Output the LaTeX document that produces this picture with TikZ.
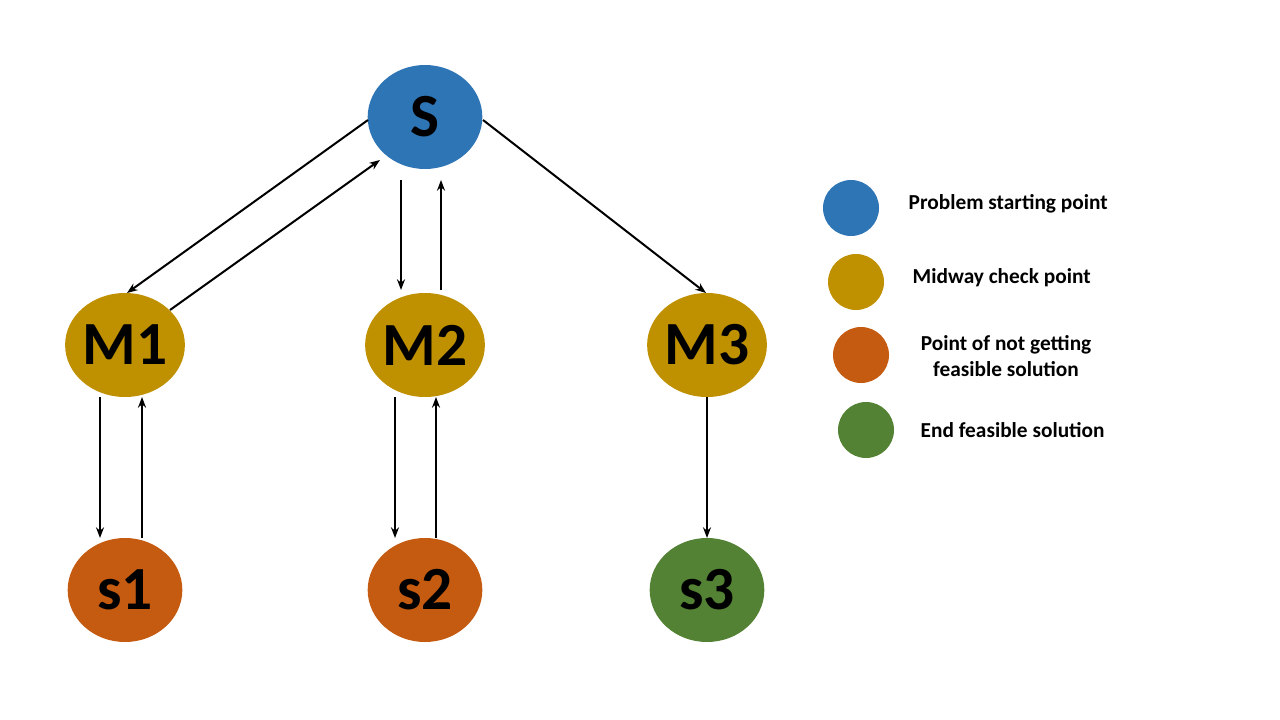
\documentclass[tikz,border=0pt]{standalone}
\usepackage{fontspec}
\setmainfont{Carlito}
\usetikzlibrary{shapes.geometric,arrows.meta,calc}
\definecolor{cblue}{HTML}{2E75B6}
\definecolor{cgold}{HTML}{BF9000}
\definecolor{corange}{HTML}{C55A11}
\definecolor{cgreen}{HTML}{548235}
\begin{document}
\begin{tikzpicture}[x=0.75pt,y=-0.75pt,
  nd/.style={ellipse,minimum width=86pt,minimum height=78pt,inner sep=0pt,font=\fontsize{46}{46}\selectfont\bfseries},
  lg/.style={circle,minimum size=42pt,inner sep=0pt},
  lt/.style={font=\fontsize{16}{19}\selectfont\bfseries,align=center},
  ar/.style={-{Stealth[length=8pt,width=6pt]},line width=1.5pt}]
\useasboundingbox (0,0) rectangle (1280,720);
\node[nd,fill=cblue] (S) at (425,117) {S};
\node[nd,fill=cgold] (M1) at (125,345) {M1};
\node[nd,fill=cgold] (M2) at (425,345) {M2};
\node[nd,fill=cgold] (M3) at (707,345) {M3};
\node[nd,fill=corange] (s1) at (125,590) {s1};
\node[nd,fill=corange] (s2) at (425,590) {s2};
\node[nd,fill=cgreen] (s3) at (707,590) {s3};
\draw[ar] ($(S)+(-57,3)$) -- ($(M1)+(2,-52)$);
\draw[ar] ($(M1)+(45,-35)$) -- ($(S)+(-45,43)$);
\draw[ar] ($(S)+(-24,63)$) -- ($(M2)+(-24,-55)$);
\draw[ar] ($(M2)+(16,-55)$) -- ($(S)+(16,63)$);
\draw[ar] ($(S)+(58,3)$) -- ($(M3)+(-1,-52)$);
\draw[ar] ($(M1)+(-25,52)$) -- ($(s1)+(-25,-52)$);
\draw[ar] ($(s1)+(17,-52)$) -- ($(M1)+(17,52)$);
\draw[ar] ($(M2)+(-30,52)$) -- ($(s2)+(-30,-52)$);
\draw[ar] ($(s2)+(11,-52)$) -- ($(M2)+(11,52)$);
\draw[ar] ($(M3)+(0,52)$) -- ($(s3)+(0,-52)$);
\node[lg,fill=cblue] (l1) at (851,208) {};
\node[lg,fill=cgold] (l2) at (856,282) {};
\node[lg,fill=corange] (l3) at (861,355) {};
\node[lg,fill=cgreen] (l4) at (866,430) {};
\node[lt,anchor=west] (t1) at (904,204) {Problem starting point};
\node[lt,anchor=west] (t2) at (908,278) {Midway check point};
\node[lt] (t3) at (1006,356) {Point of not getting\\feasible solution};
\node[lt,anchor=west] (t4) at (916,430) {End feasible solution};
\end{tikzpicture}
\end{document}
